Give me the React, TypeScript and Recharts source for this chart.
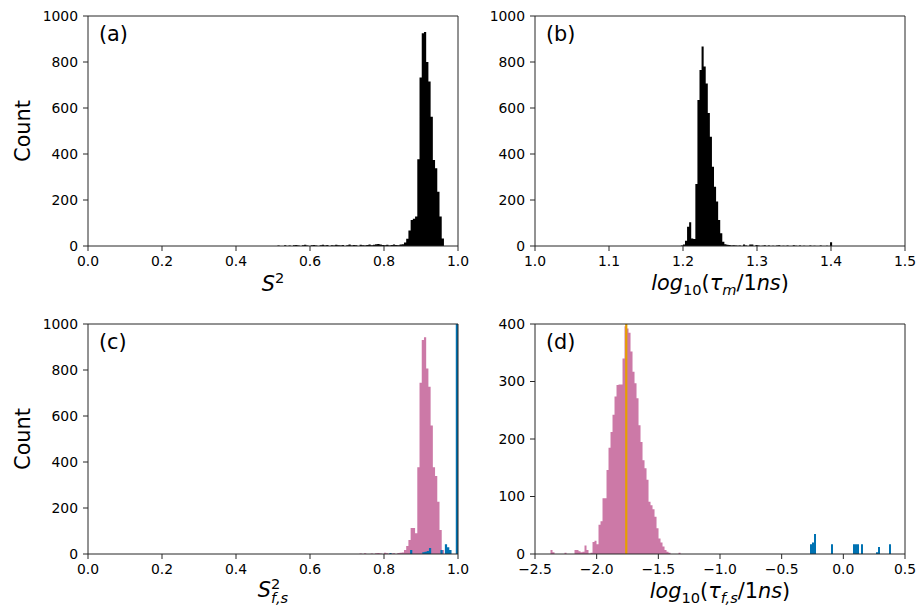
import { ComposedChart, Area, XAxis, YAxis, ReferenceLine } from 'recharts';

const FONT = 'DejaVu Sans';
const INK = '#000000';
const SPINE = '#262626';
const PINK = '#CC79A7';
const BLUE = '#0072B2';
const ORANGE = '#E69F00';

// (a) S^2 histogram, bins of 0.006 from 0.5
const A_START = 0.5;
const A_WIDTH = 0.006;
const aCounts = [
  0, 0, 2, 0, 0, 3, 0, 2, 0, 3,
  4, 2, 0, 3, 5, 2, 0, 3, 4, 2,
  0, 3, 5, 2, 4, 0, 3, 2, 5, 3,
  2, 4, 0, 3, 6, 2, 4, 3, 0, 5,
  3, 2, 4, 6, 3, 5, 8, 9, 6, 4,
  3, 5, 2, 4, 6, 4, 3, 6, 8, 15,
  32, 67, 113, 118, 128, 377, 733, 925, 930, 800, 715, 562, 374, 338, 236, 128, 33,
];

// (b) log10(tau_m / 1ns)
const B_START = 1.1971;
const B_WIDTH = 0.0028;
const bCounts = [
  2, 6, 23, 84, 103, 33, 30, 270, 635, 765, 867, 780, 707, 578, 475, 345, 258, 193, 113, 55,
  19, 8, 5, 4, 2, 3, 2, 1, 2, 0, 7, 2, 0, 7, 6, 0, 4, 2, 0, 1,
  3, 0, 2, 0, 1, 0, 2, 3, 0, 1, 0, 2, 0, 0, 3, 1, 0, 2, 0, 1,
  0, 0, 2, 0, 1, 0, 0, 2, 0, 0, 1, 0, 16,
];

// (c) S^2_{f,s}
const C_START = 0.728;
const C_WIDTH = 0.006;
const cCounts = [
  0, 2, 0, 3, 0, 0, 2, 0, 3, 4, 2, 0, 5, 3, 0, 2, 3, 0, 4, 5,
  7, 17, 35, 61, 113, 113, 90, 377, 745, 930, 942, 807, 727, 559, 377, 339, 227, 104, 17,
];
const cBlueEdges = [0.8145, 0.8705, 0.9035, 0.9095, 0.9155, 0.9215, 0.9525, 0.9645, 0.9705, 0.9765, 0.994];
const cBlueCounts = [4, 17, 8, 10, 13, 26, 17, 42, 29, 17, 3000];

// (d) log10(tau_{f,s} / 1ns)
const D_START = -2.3743;
const D_WIDTH = 0.01622;
const dCounts = [
  7, 3, 0, 0, 0, 0, 0, 2, 0, 0, 0, 0, 7, 7, 5, 3, 4, 15, 7, 1,
  2, 21, 23, 17, 51, 57, 97, 97, 146, 185, 212, 242, 274, 294, 295, 295, 340, 396, 392, 385,
  352, 317, 297, 271, 224, 195, 163, 149, 129, 91, 85, 78, 65, 45, 27, 20, 13, 7, 4, 2,
  0, 0, 0, 0, 2,
];
const dBlueEdges = [-0.2703, -0.2541, -0.2378, -0.1, 0.0784, 0.0946, 0.1108, 0.1432, 0.2649, 0.2811, 0.3703];
const dBlueCounts = [17, 20, 35, 17, 17, 17, 17, 17, 3, 12, 17];
const D_MARKER = -1.76;

const s2Ticks = [0, 0.2, 0.4, 0.6, 0.8, 1.0];
const tauMTicks = [1.0, 1.1, 1.2, 1.3, 1.4, 1.5];
const tauFSTicks = [-2.5, -2.0, -1.5, -1.0, -0.5, 0.0, 0.5];
const countTicks = [0, 200, 400, 600, 800, 1000];
const countTicksD = [0, 100, 200, 300, 400];

// contiguous bins -> step points
function hist(start: number, width: number, counts: number[]) {
  const pts = counts.map((c, i) => ({ x: start + i * width, y: c }));
  pts.push({ x: start + counts.length * width, y: 0 });
  return pts;
}

// isolated bins -> step points
function sparse(edges: number[], counts: number[], width: number) {
  return edges.flatMap((e, i) => [{ x: e, y: counts[i] }, { x: e + width, y: 0 }]);
}

const fmt1 = (v: number) => (v < 0 ? '\u2212' + Math.abs(v).toFixed(1) : v.toFixed(1));

const TICK = { fill: INK, fontSize: 13.9, fontFamily: FONT };
const BIG = 20.8;
const SMALL = 14.6;

function Tag({ viewBox, text }: any) {
  return (
    <text x={viewBox.x + 11} y={viewBox.y + 25} fontFamily={FONT} fontSize={BIG} fill={INK}>
      {text}
    </text>
  );
}

function CountTitle({ viewBox }: any) {
  const cx = viewBox.x + 29.5;
  const cy = viewBox.y + viewBox.height / 2;
  return (
    <text x={cx} y={cy} transform={`rotate(-90 ${cx} ${cy})`} textAnchor="middle"
      fontFamily={FONT} fontSize={BIG} fill={INK}>
      Count
    </text>
  );
}

function XTitle({ viewBox, kind }: any) {
  const x = viewBox.x + viewBox.width / 2;
  let y = viewBox.y + 44;
  let body;
  if (kind === 'a') {
    y = viewBox.y + 45;
    body = (
      <>
        <tspan fontStyle="italic">S</tspan>
        <tspan dy={-8.5} fontSize={SMALL}>2</tspan>
      </>
    );
  } else if (kind === 'c') {
    y = viewBox.y + 43;
    body = (
      <>
        <tspan fontStyle="italic">S</tspan>
        <tspan dy={-8.5} fontSize={SMALL}>2</tspan>
        <tspan dx={-9.3} dy={14} fontSize={SMALL} fontStyle="italic">f,s</tspan>
      </>
    );
  } else {
    const sub = kind === 'b' ? 'm' : 'f,s';
    body = (
      <>
        <tspan fontStyle="italic">log</tspan>
        <tspan dy={5} fontSize={SMALL}>10</tspan>
        <tspan dy={-5}>(</tspan>
        <tspan fontStyle="italic">τ</tspan>
        <tspan dy={5} fontSize={SMALL} fontStyle="italic">{sub}</tspan>
        <tspan dy={-5}>/1</tspan>
        <tspan fontStyle="italic">ns</tspan>
        <tspan>)</tspan>
      </>
    );
  }
  return (
    <text x={x} y={y} textAnchor="middle" fontFamily={FONT} fontSize={BIG} fill={INK}>
      {body}
    </text>
  );
}

function Panel({ left, top, tag, kind, xDomain, xTicks, yMax, yTicks, showCount, children }: any) {
  return (
    <div style={{ position: 'absolute', left, top }}>
      <ComposedChart width={470} height={306} margin={{ top: 16, right: 12, left: 0, bottom: 0 }}>
        <XAxis
          type="number"
          dataKey="x"
          domain={xDomain}
          ticks={xTicks}
          interval={0}
          allowDataOverflow
          tickFormatter={fmt1}
          height={60}
          tickSize={5}
          tickMargin={5}
          stroke={SPINE}
          tick={TICK}
          label={<XTitle kind={kind} />}
        />
        <YAxis
          type="number"
          domain={[0, yMax]}
          ticks={yTicks}
          interval={0}
          allowDataOverflow
          width={88}
          tickSize={5}
          tickMargin={5}
          stroke={SPINE}
          tick={TICK}
          label={showCount ? <CountTitle /> : undefined}
        />
        {children}
        <ReferenceLine x={xDomain[1]} stroke={SPINE} strokeWidth={1} />
        <ReferenceLine y={yMax} stroke={SPINE} strokeWidth={1} label={<Tag text={tag} />} />
      </ComposedChart>
    </div>
  );
}

function Hist({ data, color }: any) {
  return (
    <Area
      data={data}
      type="stepAfter"
      dataKey="y"
      stroke="none"
      fill={color}
      fillOpacity={1}
      dot={false}
      activeDot={false}
      isAnimationActive={false}
    />
  );
}

export default function App() {
  return (
    <div style={{ position: 'absolute', left: 0, top: 0, width: 921, height: 615, background: '#fff' }}>
      <Panel left={0} top={0} tag="(a)" kind="a" xDomain={[0, 1]} xTicks={s2Ticks}
        yMax={1000} yTicks={countTicks} showCount>
        {Hist({ data: hist(A_START, A_WIDTH, aCounts), color: INK })}
      </Panel>
      <Panel left={447} top={0} tag="(b)" kind="b" xDomain={[1, 1.5]} xTicks={tauMTicks}
        yMax={1000} yTicks={countTicks}>
        {Hist({ data: hist(B_START, B_WIDTH, bCounts), color: INK })}
      </Panel>
      <Panel left={0} top={308} tag="(c)" kind="c" xDomain={[0, 1]} xTicks={s2Ticks}
        yMax={1000} yTicks={countTicks} showCount>
        {Hist({ data: hist(C_START, C_WIDTH, cCounts), color: PINK })}
        {Hist({ data: sparse(cBlueEdges, cBlueCounts, C_WIDTH), color: BLUE })}
      </Panel>
      <Panel left={447} top={308} tag="(d)" kind="d" xDomain={[-2.5, 0.5]} xTicks={tauFSTicks}
        yMax={400} yTicks={countTicksD}>
        {Hist({ data: hist(D_START, D_WIDTH, dCounts), color: PINK })}
        {Hist({ data: sparse(dBlueEdges, dBlueCounts, D_WIDTH), color: BLUE })}
        <ReferenceLine x={D_MARKER} stroke={ORANGE} strokeWidth={2.2} />
      </Panel>
    </div>
  );
}
